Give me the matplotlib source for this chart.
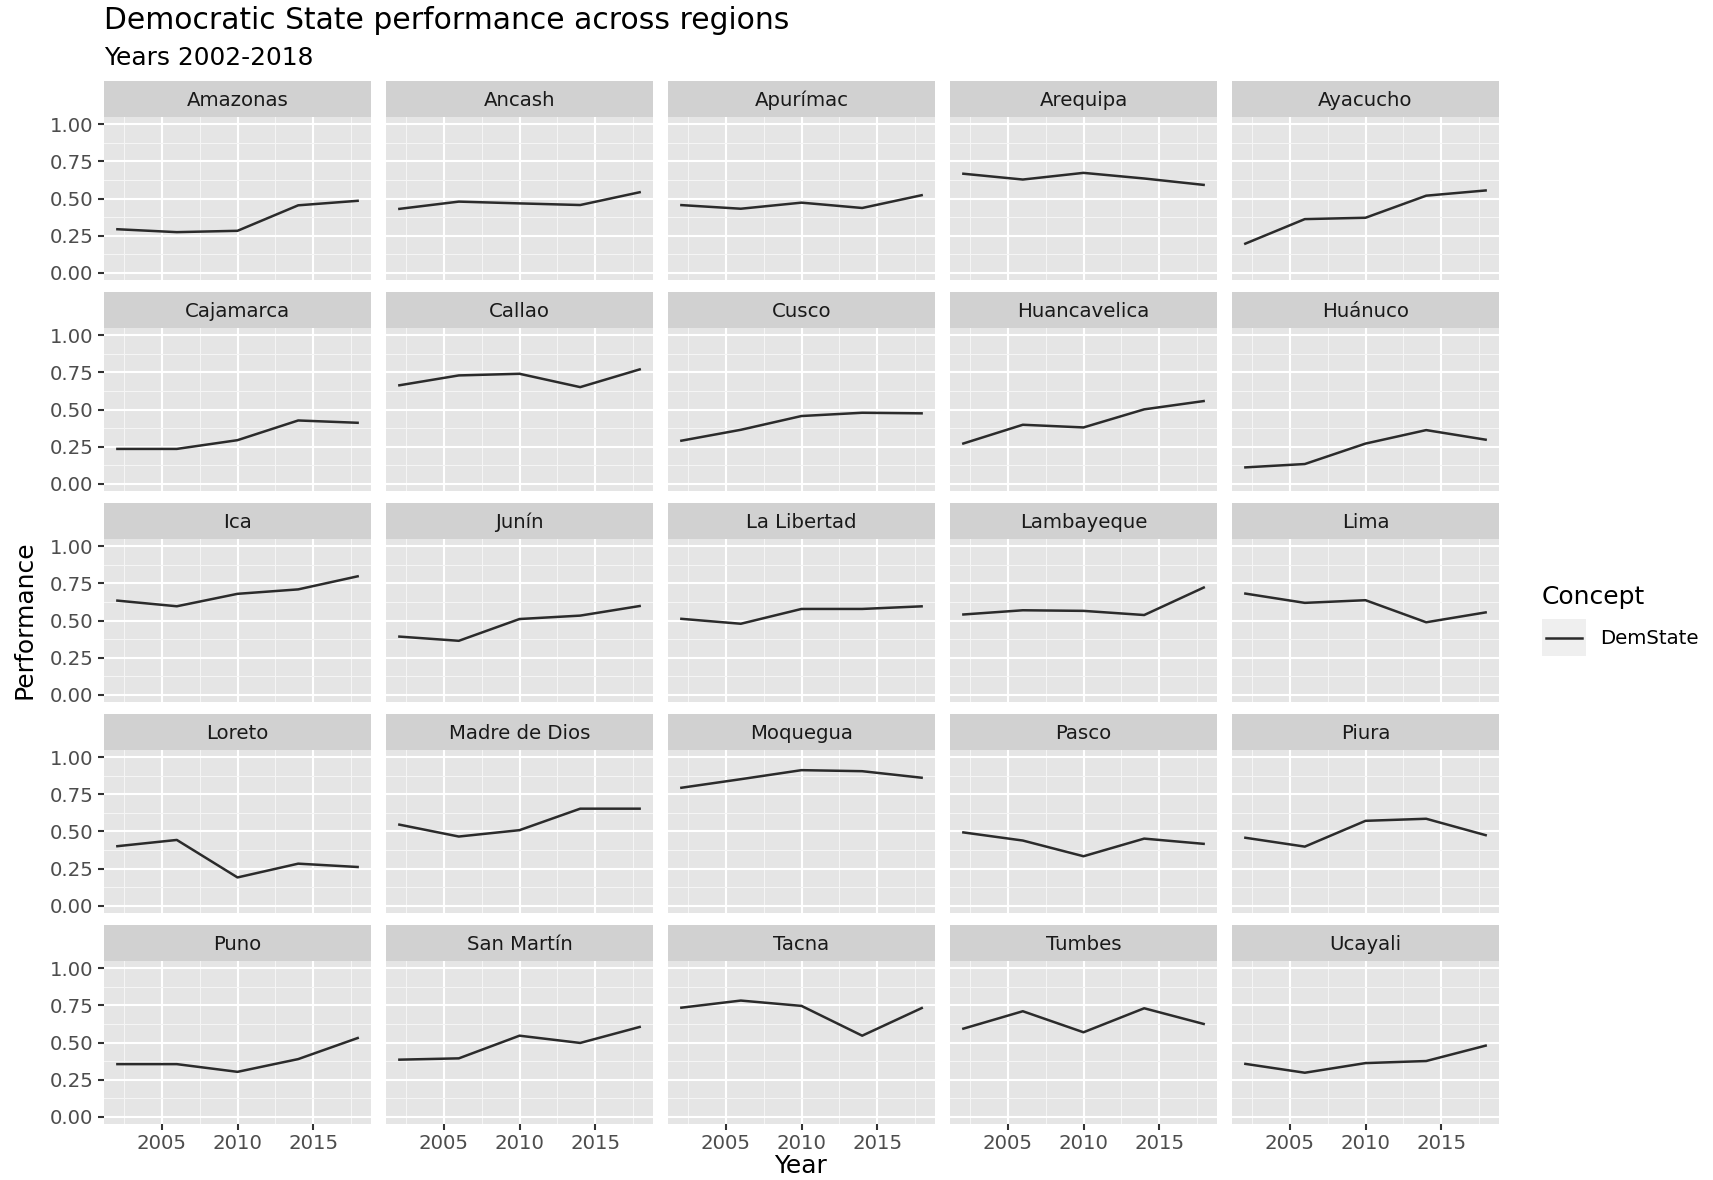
import matplotlib
matplotlib.use("Agg")
import matplotlib.pyplot as plt
from matplotlib.lines import Line2D

plt.rcParams['font.family'] = ['DejaVu Sans']

# Datos (indice de desempeno por region)
years = [2002, 2006, 2010, 2014, 2018]

amazonas = [0.293, 0.273, 0.282, 0.454, 0.485]
ancash = [0.429, 0.479, 0.467, 0.456, 0.544]
apurimac = [0.456, 0.431, 0.472, 0.436, 0.524]
arequipa = [0.668, 0.628, 0.673, 0.635, 0.591]
ayacucho = [0.192, 0.361, 0.370, 0.519, 0.555]
cajamarca = [0.234, 0.234, 0.293, 0.426, 0.410]
callao = [0.662, 0.730, 0.741, 0.651, 0.773]
cusco = [0.288, 0.363, 0.456, 0.478, 0.474]
huancavelica = [0.268, 0.397, 0.379, 0.501, 0.558]
huanuco = [0.109, 0.132, 0.270, 0.361, 0.295]
ica = [0.635, 0.596, 0.680, 0.710, 0.800]
junin = [0.392, 0.363, 0.510, 0.533, 0.599]
la_libertad = [0.512, 0.478, 0.578, 0.578, 0.596]
lambayeque = [0.540, 0.569, 0.565, 0.537, 0.726]
lima = [0.683, 0.619, 0.637, 0.488, 0.556]
loreto = [0.400, 0.443, 0.190, 0.283, 0.260]
madre_de_dios = [0.548, 0.466, 0.509, 0.654, 0.654]
moquegua = [0.794, 0.853, 0.914, 0.907, 0.862]
pasco = [0.495, 0.439, 0.333, 0.452, 0.416]
piura = [0.459, 0.398, 0.572, 0.586, 0.473]
puno = [0.354, 0.354, 0.302, 0.388, 0.533]
san_martin = [0.384, 0.393, 0.546, 0.497, 0.607]
tacna = [0.734, 0.783, 0.747, 0.546, 0.736]
tumbes = [0.591, 0.711, 0.569, 0.731, 0.623]
ucayali = [0.357, 0.296, 0.361, 0.375, 0.481]

regions = ['Amazonas', 'Ancash', 'Apurímac', 'Arequipa', 'Ayacucho',
           'Cajamarca', 'Callao', 'Cusco', 'Huancavelica', 'Huánuco',
           'Ica', 'Junín', 'La Libertad', 'Lambayeque', 'Lima',
           'Loreto', 'Madre de Dios', 'Moquegua', 'Pasco', 'Piura',
           'Puno', 'San Martín', 'Tacna', 'Tumbes', 'Ucayali']
series = [amazonas, ancash, apurimac, arequipa, ayacucho,
          cajamarca, callao, cusco, huancavelica, huanuco,
          ica, junin, la_libertad, lambayeque, lima,
          loreto, madre_de_dios, moquegua, pasco, piura,
          puno, san_martin, tacna, tumbes, ucayali]

y_ticks = [0, 0.25, 0.5, 0.75, 1.0]
y_labels = ['0.00', '0.25', '0.50', '0.75', '1.00']
x_ticks = [2005, 2010, 2015]

W, H = 1713, 1180
fig = plt.figure(figsize=(W / 100, H / 100), dpi=100)


def box(x, y, w, h):
    # pixeles (origen arriba a la izquierda) -> fraccion de figura
    return [x / W, 1 - (y + h) / H, w / W, h / H]


tick_size = 14.2
line_color = '#2b2b2b'
for i, (name, vals) in enumerate(zip(regions, series)):
    r, c = divmod(i, 5)
    x0 = 104 + 282 * c
    y0 = 81 + 211 * r

    strip = fig.add_axes(box(x0, y0, 267, 36))
    strip.set_facecolor('#D1D1D1')
    strip.set_xticks([])
    strip.set_yticks([])
    for s in strip.spines.values():
        s.set_visible(False)
    strip.text(0.5, 0.47, name, ha='center', va='center', fontsize=tick_size,
               color='#1A1A1A', transform=strip.transAxes)

    ax = fig.add_axes(box(x0, y0 + 36, 267, 163))
    ax.set_facecolor('#E5E5E5')
    ax.plot(years, vals, color=line_color, lw=1.8, solid_capstyle='butt')
    ax.set_xlim(2001.2, 2018.8)
    ax.set_ylim(-0.05, 1.05)
    ax.set_xticks(x_ticks)
    ax.set_xticks([2002.5, 2007.5, 2012.5, 2017.5], minor=True)
    ax.set_yticks(y_ticks)
    ax.set_yticklabels(y_labels)
    ax.set_yticks([0.125, 0.375, 0.625, 0.875], minor=True)
    ax.grid(which='major', color='white', lw=1.5)
    ax.grid(which='minor', color='#F5F5F5', lw=0.8)
    ax.set_axisbelow(True)
    for s in ax.spines.values():
        s.set_visible(False)
    ax.tick_params(which='minor', length=0)
    ax.tick_params(which='major', length=4, width=1.5, color='#333333',
                   labelsize=tick_size, labelcolor='#4D4D4D', pad=3.5)
    if c != 0:
        ax.tick_params(axis='y', left=False, labelleft=False)
    if r != 4:
        ax.tick_params(axis='x', bottom=False, labelbottom=False)

# Titulos
fig.text(104 / W, 1 - 29 / H, 'Democratic State performance across regions',
         fontsize=21.4, color='black', va='baseline', ha='left')
fig.text(104 / W, 1 - 65 / H, 'Years 2002-2018',
         fontsize=17.9, color='black', va='baseline', ha='left')
fig.text(25 / W, 1 - 620 / H, 'Performance', rotation=90, fontsize=18,
         va='center', ha='center')
fig.text(801 / W, 1 - 1173 / H, 'Year', fontsize=18, va='baseline', ha='center')

# Leyenda
fig.text(1542 / W, 1 - 604 / H, 'Concept', fontsize=18, va='baseline', ha='left')
key = fig.add_axes(box(1542, 619, 44, 37))
key.set_facecolor('#EFEFEF')
key.set_xlim(0, 1)
key.set_ylim(0, 1)
key.set_xticks([])
key.set_yticks([])
for s in key.spines.values():
    s.set_visible(False)
key.add_line(Line2D([0.1, 0.9], [0.5, 0.5], color=line_color, lw=1.8))
fig.text(1600 / W, 1 - 638 / H, 'DemState', fontsize=tick_size, va='center', ha='left')

fig.savefig('out.png', dpi=100)
